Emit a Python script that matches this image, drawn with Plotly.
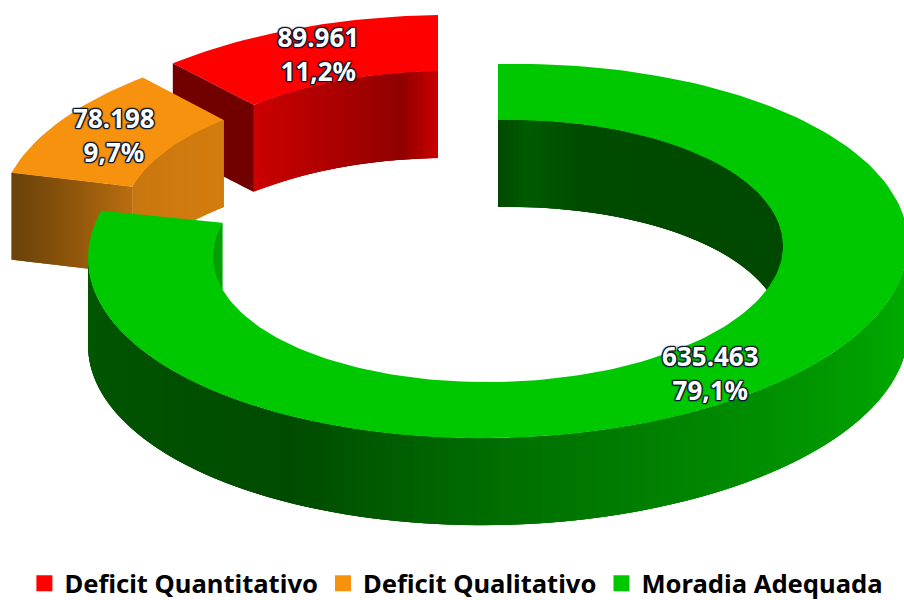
import math
import plotly.graph_objects as go

categories = ["Deficit Quantitativo", "Deficit Qualitativo", "Moradia Adequada"]
values = [89961, 78198, 635463]

COLORS = {"red": "#FF0000", "orange": "#F7920F", "green": "#00C800"}
FONT = "Noto Sans"
RX, RY, IRX, IRY, DEPTH = 410, 187, 285, 131, 87
# view-space centre of each exploded slice, and its slight perspective tilt
CENTERS = {"red": (438, 202), "orange": (408, 220), "green": (498, 251)}
TILT = {"red": -0.015, "orange": 0.0, "green": -0.018}
# gradients: (angle in degrees clockwise from 12 o'clock, rgb)
GRAD = {
    "red_inner": [(0, (205, 0, 0)), (20, (170, 0, 0)), (33, (145, 0, 0)), (40, (200, 0, 0))],
    "orange_inner": [(0, (200, 118, 15)), (40, (212, 125, 15))],
    "green_inner": [(0, (0, 72, 0)), (6, (0, 92, 0)), (16, (0, 75, 0)), (90, (0, 72, 0)),
                    (270, (0, 150, 0)), (290, (0, 170, 0))],
    "green_outer": [(90, (0, 178, 0)), (130, (0, 150, 0)), (180, (0, 110, 0)),
                    (210, (0, 75, 0)), (270, (0, 88, 0))],
}
ORANGE_CUT = [(0, (105, 65, 10)), (0.6, (150, 90, 12)), (1, (185, 110, 15))]
RED_CUT = [(0, (115, 0, 0)), (1, (115, 0, 0))]

total = sum(values)
fractions = [v / total for v in values]


def lerp(stops, t):
    if t <= stops[0][0]:
        return stops[0][1]
    for (a, ca), (b, cb) in zip(stops, stops[1:]):
        if t <= b:
            k = (t - a) / (b - a)
            return tuple(ca[i] + (cb[i] - ca[i]) * k for i in range(3))
    return stops[-1][1]


def rgb(c):
    return "rgb(%d,%d,%d)" % tuple(round(v) for v in c)


def pt(key, rx, ry, deg, dz=0):
    r = math.radians(deg)
    cx, cy = CENTERS[key]
    x = cx + rx * math.sin(r)
    return x, cy - ry * math.cos(r) + dz + TILT[key] * (x - cx)


def poly(points, color):
    xs = [p[0] for p in points] + [points[0][0]]
    ys = [p[1] for p in points] + [points[0][1]]
    return go.Scatter(x=xs, y=ys, mode="lines", fill="toself", fillcolor=color,
                      line=dict(width=0), hoverinfo="skip", showlegend=False)


def arc(key, rx, ry, a, b, dz=0, step=1.5):
    n = max(2, int(abs(b - a) / step) + 1)
    return [pt(key, rx, ry, a + (b - a) * i / n, dz) for i in range(n + 1)]


def wall(key, rx, ry, a, b, stops, rel=False, step=1.0):
    # Each band runs on past its end; the next one paints over it, so no seams show
    out = []
    n = max(1, int(abs(b - a) / step))
    for i in range(n):
        t0 = a + (b - a) * i / n
        t1 = a + (b - a) * (i + 1) / n
        tip = min(t1 + 2 * step, b)
        mid = (t0 + t1) / 2 - (a if rel else 0)
        pts = arc(key, rx, ry, t0, tip, 0, 1.0) + arc(key, rx, ry, tip, t0, DEPTH, 1.0)
        out.append(poly(pts, rgb(lerp(stops, mid))))
    return out


def cut(key, deg, stops, n=40):
    out = []
    for i in range(n):
        f0, f1 = i / n, min(1, (i + 2) / n)
        x0 = pt(key, RX + (IRX - RX) * f0, RY + (IRY - RY) * f0, deg)
        x1 = pt(key, RX + (IRX - RX) * f1, RY + (IRY - RY) * f1, deg)
        out.append(poly([x0, x1, (x1[0], x1[1] + DEPTH), (x0[0], x0[1] + DEPTH)],
                        rgb(lerp(stops, (i + 0.5) / n))))
    return out


def top(key, a, b):
    return poly(arc(key, RX, RY, a, b) + arc(key, IRX, IRY, b, a), COLORS[key])


# Slices run clockwise from 12 o'clock: green, orange, red
g_end = 360 * fractions[2]
o_end = g_end + 360 * fractions[1]
r_end = o_end + 360 * fractions[0]

traces = []
traces += wall("red", IRX, IRY, o_end, r_end, GRAD["red_inner"], rel=True)
traces += cut("red", o_end, RED_CUT)
traces.append(top("red", o_end, r_end))

traces += wall("orange", IRX, IRY, g_end, o_end, GRAD["orange_inner"], rel=True)
traces += cut("orange", g_end, ORANGE_CUT)
traces.append(top("orange", g_end, o_end))

traces += wall("green", IRX, IRY, 0, 90, GRAD["green_inner"])
traces += wall("green", IRX, IRY, 270, g_end, GRAD["green_inner"])
traces += wall("green", RX, RY, 90, 270, GRAD["green_outer"])
traces.append(top("green", 0, g_end))

# Data labels at the middle of each slice
OUT = ", ".join(f"{dx}px {dy}px 1px #0A1A33" for dx in (-1, 0, 1) for dy in (-1, 0, 1) if dx or dy)
mids = {"red": (o_end + r_end) / 2, "orange": (g_end + o_end) / 2, "green": g_end / 2}
for key, val in zip(["red", "orange", "green"], values):
    mx, my = pt(key, (RX + IRX) / 2, (RY + IRY) / 2, mids[key])
    count = f"{val:,}".replace(",", ".")
    pct = f"{100 * val / total:.1f}%".replace(".", ",")
    traces.append(go.Scatter(x=[mx, mx], y=[my - 14, my + 20], mode="text", text=[count, pct],
                             textposition="middle center", hoverinfo="skip", showlegend=False,
                             cliponaxis=False,
                             textfont=dict(family=FONT, size=26, color="white", weight="bold", shadow=OUT)))

# Legend entries
for name, key in zip(categories, ["red", "orange", "green"]):
    traces.append(go.Scatter(x=[None], y=[None], mode="markers", name=name,
                             marker=dict(symbol="square", size=17, color=COLORS[key])))

fig = go.Figure(traces)
fig.update_layout(
    width=904, height=600, autosize=False,
    margin=dict(l=0, r=0, t=0, b=0, autoexpand=False),
    paper_bgcolor="white", plot_bgcolor="white",
    xaxis=dict(range=[0, 904], visible=False, fixedrange=True),
    yaxis=dict(range=[600, 0], visible=False, fixedrange=True),
    legend=dict(orientation="h", x=0.027, xanchor="left", y=-0.012, yanchor="bottom",
                font=dict(family=FONT, size=25.6, color="#000000", weight="bold"),
                itemwidth=30, tracegroupgap=0, bgcolor="rgba(0,0,0,0)"),
)
fig.write_html("out.html", config={"displayModeBar": False}, post_script="document.body.style.margin='0';")
